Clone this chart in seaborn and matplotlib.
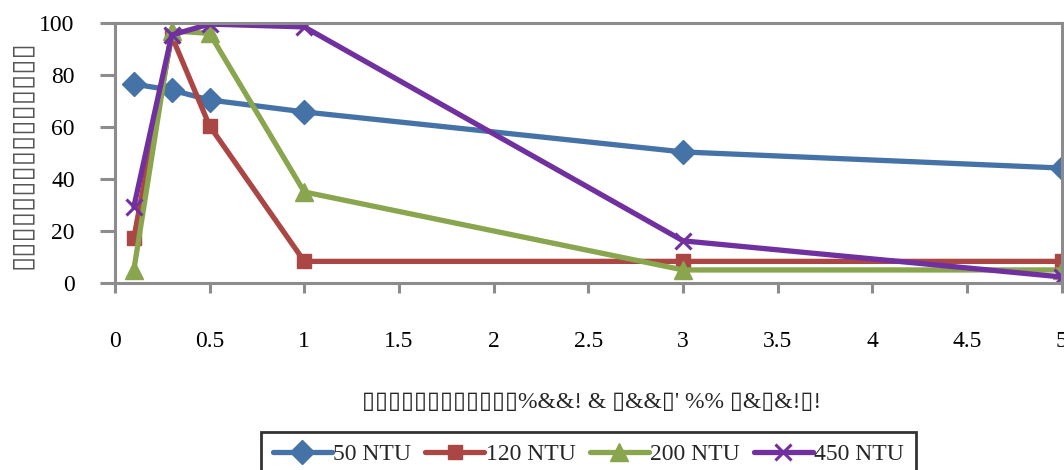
import matplotlib
matplotlib.use("Agg")
import matplotlib.pyplot as plt
import seaborn as sns

# Dose of coagulant (x) and turbidity removal (%) for each raw-water turbidity
dose = [0.1, 0.3, 0.5, 1, 3, 5]
removal_50 = [76.5, 74.2, 70.4, 65.8, 50.4, 44.2]
removal_120 = [17.3, 95.0, 60.4, 8.3, 8.3, 8.3]
removal_200 = [5.0, 97.0, 96.0, 35.0, 5.0, 5.0]
removal_450 = [29.3, 95.4, 99.6, 98.5, 16.2, 2.3]
series_names = ["50 NTU", "120 NTU", "200 NTU", "450 NTU"]
x_ticks = [0, 0.5, 1, 1.5, 2, 2.5, 3, 3.5, 4, 4.5, 5]
y_ticks = [0, 20, 40, 60, 80, 100]
x_title = "▯▯▯▯▯▯▯▯▯▯▯▯%&&! & ▯&&▯' %% ▯&▯&!▯!"
y_title = "▯" * 15

sns.set_style("white")
serif = ["Liberation Serif", "DejaVu Sans"]
plt.rcParams["font.family"] = serif

fig = plt.figure(figsize=(10.64, 4.70), dpi=100)
ax = fig.add_axes([0.108, 0.398, 0.890, 0.553])

styles = [
    ("#4572A7", "D", 12, 1.0),
    ("#AA4643", "s", 9.5, 1.0),
    ("#89A54E", "^", 12.5, 1.0),
    ("#7030A0", "x", 12, 2.2),
]
all_series = [removal_50, removal_120, removal_200, removal_450]
for name, vals, (col, mk, ms, mew) in zip(series_names, all_series, styles):
    sns.lineplot(x=dose, y=vals, ax=ax, color=col, marker=mk, markersize=ms,
                 markeredgecolor=col, markerfacecolor=col, markeredgewidth=mew,
                 linewidth=3.8, label=name, sort=False, legend=False)

ax.set_xlim(0, 5)
ax.set_ylim(0, 100)
ax.set_xticks(x_ticks)
ax.set_xticklabels([f"{t:g}" for t in x_ticks])
ax.set_yticks(y_ticks)
ax.set_yticklabels([str(t) for t in y_ticks])
ax.grid(False)

for sp in ax.spines.values():
    sp.set_visible(True)
    sp.set_color("#8c8c8c")
    sp.set_linewidth(2.2)

ax.tick_params(axis="x", direction="out", length=7.5, width=2.2, color="#8c8c8c",
               pad=27, labelsize=17, labelcolor="black", bottom=True)
ax.tick_params(axis="y", direction="out", length=11, width=2.2, color="#8c8c8c",
               pad=18, labelsize=17, labelcolor="black", left=True)
ax.set_xlabel("")
ax.set_ylabel("")

fig.text(0.556, 0.143, x_title, ha="center", va="center", fontsize=17,
         family=serif)
fig.text(0.020, 0.672, y_title, ha="center", va="center", fontsize=20,
         rotation=90, family=["DejaVu Sans"], color="#555555")

handles, labels = ax.get_legend_handles_labels()
leg = fig.legend(handles, labels, loc="upper center",
                 bbox_to_anchor=(0.553, 0.081), borderaxespad=0, ncol=4,
                 frameon=True, fancybox=False, fontsize=17, handlelength=2.5,
                 handletextpad=0.05, columnspacing=0.6, borderpad=0.5)
leg.get_frame().set_edgecolor("black")
leg.get_frame().set_linewidth(2)

fig.savefig("out.png", dpi=100)
